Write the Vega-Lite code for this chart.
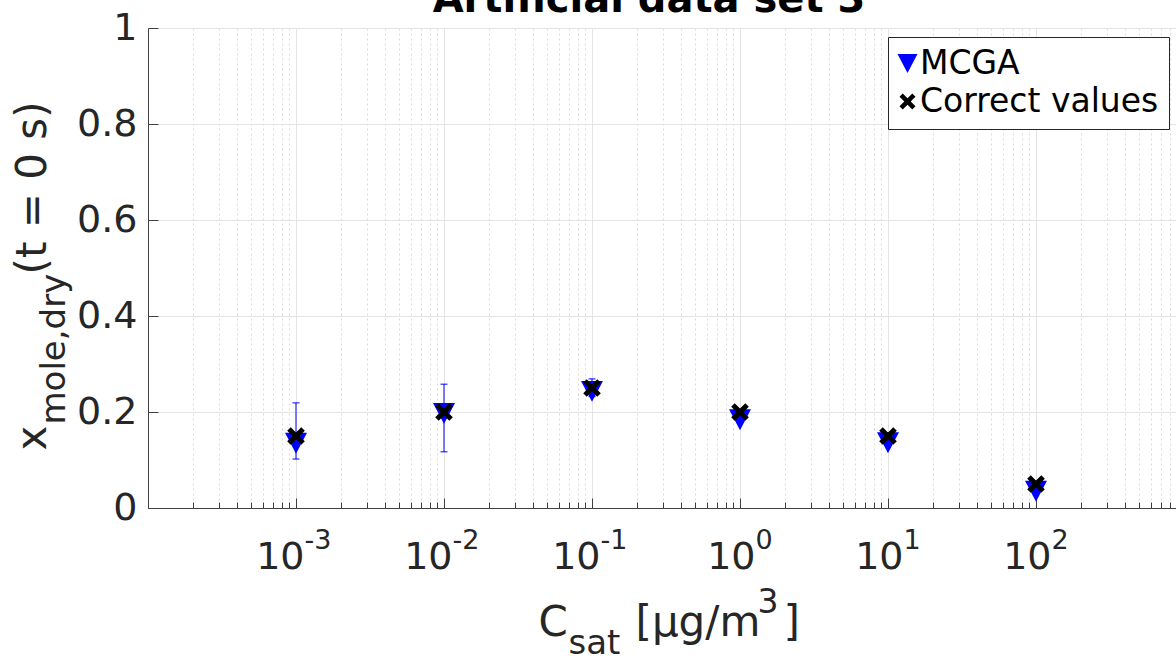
{
  "$schema": "https://vega.github.io/schema/vega-lite/v6.json",
  "width": 1028,
  "height": 480,
  "autosize": {"type": "none"},
  "padding": {"left": 148, "top": 28, "right": 0, "bottom": 152},
  "background": "white",
  "title": {"text": "Artificial data set 3", "font": "DejaVu Sans", "fontSize": 40, "fontWeight": "bold", "color": "#000000", "anchor": "middle", "frame": "group", "dx": -13, "dy": 43, "baseline": "alphabetic", "offset": 0},
  "data": {"values": [
    {"c": 0.001, "v": 0.135, "series": "MCGA", "lo": 0.102, "hi": 0.219},
    {"c": 0.01, "v": 0.197, "series": "MCGA", "lo": 0.117, "hi": 0.258},
    {"c": 0.1, "v": 0.243, "series": "MCGA", "lo": 0.232, "hi": 0.269},
    {"c": 1, "v": 0.184, "series": "MCGA"},
    {"c": 10, "v": 0.136, "series": "MCGA"},
    {"c": 100, "v": 0.035, "series": "MCGA"},
    {"c": 0.001, "v": 0.15, "series": "Correct values"},
    {"c": 0.01, "v": 0.2, "series": "Correct values"},
    {"c": 0.1, "v": 0.25, "series": "Correct values"},
    {"c": 1, "v": 0.2, "series": "Correct values"},
    {"c": 10, "v": 0.15, "series": "Correct values"},
    {"c": 100, "v": 0.05, "series": "Correct values"}
  ]},
  "config": {
    "view": {"stroke": null},
    "font": "DejaVu Sans",
    "axis": {"labelFont": "DejaVu Sans", "titleFont": "DejaVu Sans", "labelColor": "#262626", "titleColor": "#262626", "domainColor": "#404040", "tickColor": "#404040", "zindex": 0, "titleFontWeight": "normal", "titlePadding": 0},
    "legend": {"orient": "none", "legendX": 740, "legendY": 9, "title": null, "labelFont": "DejaVu Sans", "labelFontSize": 33, "labelColor": "#000000", "symbolSize": 400, "strokeColor": "#262626", "fillColor": "#ffffff", "padding": 10, "rowPadding": 4, "labelOffset": -4, "symbolOffset": -7, "labelLimit": 0, "symbolStrokeWidth": 0, "symbolOpacity": 1}
  },
  "resolve": {"axis": {"x": "independent", "y": "independent"}},
  "layer": [
    {
      "transform": [{"filter": "datum.series === 'MCGA' && isValid(datum.lo)"}],
      "mark": {"type": "rule", "color": "#0000ff", "strokeWidth": 1},
      "encoding": {
        "x": {"field": "c", "type": "quantitative", "scale": {"type": "log", "domain": [0.0001, 883], "nice": false},
          "axis": {"orient": "bottom", "values": [0.0002,0.0003,0.0004,0.0005,0.0006,0.0007,0.0008,0.0009,0.002,0.003,0.004,0.005,0.006,0.007,0.008,0.009,0.02,0.03,0.04,0.05,0.06,0.07,0.08,0.09,0.2,0.3,0.4,0.5,0.6,0.7,0.8,0.9,2,3,4,5,6,7,8,9,20,30,40,50,60,70,80,90,200,300,400,500,600,700,800],
            "labels": false, "domain": false, "ticks": true, "tickSize": -6, "grid": true, "gridColor": "#dadada", "gridDash": [2, 3], "gridWidth": 1,
            "title": "sat", "titleFontSize": 34, "titleX": 420, "titleY": 145, "titleAlign": "left", "titleBaseline": "alphabetic", "titleAngle": 0}},
        "y": {"field": "lo", "type": "quantitative", "scale": {"domain": [0, 1], "nice": false, "zero": false},
          "axis": {"orient": "left", "values": [0, 0.2, 0.4, 0.6, 0.8, 1], "format": "~g", "labelFontSize": 38, "labelPadding": 21, "tickSize": -10, "grid": true, "gridColor": "#e3e3e3", "gridWidth": 1, "domain": true,
            "title": "x", "titleFontSize": 42, "titleX": -103, "titleY": 422, "titleAlign": "left", "titleBaseline": "alphabetic", "titleAngle": -90}},
        "y2": {"field": "hi"}
      }
    },
    {
      "transform": [{"filter": "datum.series === 'MCGA' && isValid(datum.lo)"}],
      "mark": {"type": "tick", "orient": "horizontal", "size": 7, "thickness": 1, "color": "#0000ff", "opacity": 1},
      "encoding": {
        "x": {"field": "c", "type": "quantitative", "scale": {"type": "log", "domain": [0.0001, 883], "nice": false},
          "axis": {"orient": "bottom", "values": [0.001, 0.01, 0.1, 1, 10, 100], "labelExpr": "'10'",
            "labelFontSize": 38, "labelPadding": 70, "labelBaseline": "alphabetic", "labelAlign": "right",
            "labelOffset": {"condition": {"test": "datum.value < 1", "value": 8}, "value": 15},
            "labelFlush": false, "labelOverlap": false, "labelBound": false,
            "tickSize": -10, "domain": true, "grid": true, "gridColor": "#e3e3e3", "gridWidth": 1,
            "title": "C", "titleFontSize": 42, "titleX": 390, "titleY": 127, "titleAlign": "left", "titleBaseline": "alphabetic", "titleAngle": 0}},
        "y": {"field": "lo", "type": "quantitative", "scale": {"domain": [0, 1], "nice": false, "zero": false},
          "axis": {"orient": "left", "domain": false, "ticks": false, "labels": false, "grid": false,
            "title": "mole,dry", "titleFontSize": 34, "titleX": -84, "titleY": 396, "titleAlign": "left", "titleBaseline": "alphabetic", "titleAngle": -90}}
      }
    },
    {
      "transform": [{"filter": "datum.series === 'MCGA' && isValid(datum.hi)"}],
      "mark": {"type": "tick", "orient": "horizontal", "size": 7, "thickness": 1, "color": "#0000ff", "opacity": 1},
      "encoding": {
        "x": {"field": "c", "type": "quantitative", "scale": {"type": "log", "domain": [0.0001, 883], "nice": false},
          "axis": {"orient": "bottom", "domain": false, "ticks": false, "labels": false, "grid": false,
            "title": "[μg/m", "titleFontSize": 42, "titleX": 487, "titleY": 127, "titleAlign": "left", "titleBaseline": "alphabetic", "titleAngle": 0}},
        "y": {"field": "hi", "type": "quantitative", "scale": {"domain": [0, 1], "nice": false, "zero": false},
          "axis": {"orient": "left", "domain": false, "ticks": false, "labels": false, "grid": false,
            "title": "(t = 0 s)", "titleFontSize": 42, "titleX": -103, "titleY": 246, "titleAlign": "left", "titleBaseline": "alphabetic", "titleAngle": -90}}
      }
    },
    {
      "transform": [{"filter": "datum.series === 'MCGA'"}],
      "mark": {"type": "point", "filled": true, "size": 484, "opacity": 1},
      "encoding": {
        "x": {"field": "c", "type": "quantitative", "scale": {"type": "log", "domain": [0.0001, 883], "nice": false},
          "axis": {"orient": "bottom", "domain": false, "ticks": false, "labels": false, "grid": false,
            "title": "3", "titleFontSize": 33, "titleX": 609, "titleY": 104, "titleAlign": "left", "titleBaseline": "alphabetic", "titleAngle": 0}},
        "y": {"field": "v", "type": "quantitative", "scale": {"domain": [0, 1], "nice": false, "zero": false}, "axis": null},
        "color": {"field": "series", "type": "nominal", "scale": {"domain": ["MCGA", "Correct values"], "range": ["#0000ff", "#000000"]}},
        "shape": {"field": "series", "type": "nominal", "scale": {"domain": ["MCGA", "Correct values"], "range": ["M-1,-0.95L1,-0.95L0,0.95Z", "M-0.8,-0.48L-0.48,-0.8L0,-0.32L0.48,-0.8L0.8,-0.48L0.32,0L0.8,0.48L0.48,0.8L0,0.32L-0.48,0.8L-0.8,0.48L-0.32,0Z"]}}
      }
    },
    {
      "transform": [{"filter": "datum.series === 'Correct values'"}],
      "mark": {"type": "point", "filled": true, "size": 484, "opacity": 1},
      "encoding": {
        "x": {"field": "c", "type": "quantitative", "scale": {"type": "log", "domain": [0.0001, 883], "nice": false},
          "axis": {"orient": "bottom", "values": [0.001, 0.01, 0.1, 1, 10, 100],
            "labelExpr": "['-4','-3','-2','-1','0','1','2','3'][round(log(datum.value)/LN10)+4]",
            "labelFontSize": 27, "labelPadding": 40, "labelBaseline": "alphabetic", "labelAlign": "left",
            "labelOffset": {"condition": {"test": "datum.value < 1", "value": 8}, "value": 15},
            "labelFlush": false, "labelOverlap": false, "labelBound": false,
            "domain": false, "ticks": false, "grid": false,
            "title": "]", "titleFontSize": 42, "titleX": 635, "titleY": 127, "titleAlign": "left", "titleBaseline": "alphabetic", "titleAngle": 0}},
        "y": {"field": "v", "type": "quantitative", "scale": {"domain": [0, 1], "nice": false, "zero": false}, "axis": null},
        "color": {"field": "series", "type": "nominal", "scale": {"domain": ["MCGA", "Correct values"], "range": ["#0000ff", "#000000"]}},
        "shape": {"field": "series", "type": "nominal", "scale": {"domain": ["MCGA", "Correct values"], "range": ["M-1,-0.95L1,-0.95L0,0.95Z", "M-0.8,-0.48L-0.48,-0.8L0,-0.32L0.48,-0.8L0.8,-0.48L0.32,0L0.8,0.48L0.48,0.8L0,0.32L-0.48,0.8L-0.8,0.48L-0.32,0Z"]}}
      }
    }
  ]
}
